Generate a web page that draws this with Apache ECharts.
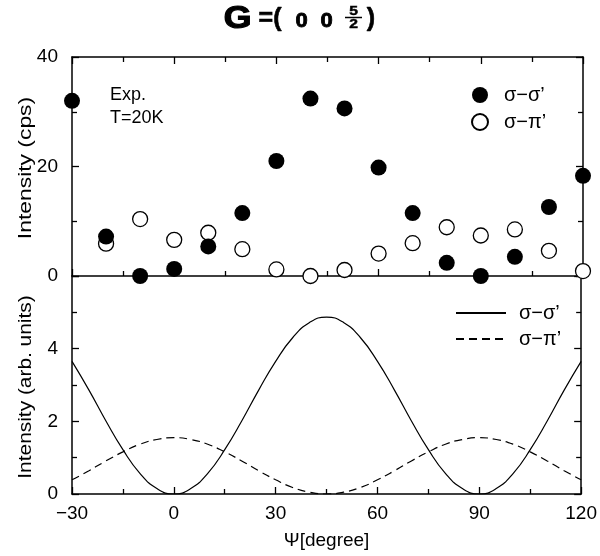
<!DOCTYPE html>
<html><head><meta charset="utf-8">
<script src="https://cdn.jsdelivr.net/npm/echarts@6/dist/echarts.min.js"></script>
<style>html,body{margin:0;padding:0;background:#fff}#c{width:600px;height:556px}</style>
</head><body><div id="c"></div>
<script>
// Measured angles (degrees)
const psiExp = [-30,-20,-10,0,10,20,30,40,50,60,70,80,90,100,110,120];
// Experimental intensities (cps), sigma-sigma'
const sigSigExp = [32.0,7.2,0.0,1.3,5.4,11.5,21.0,32.4,30.6,19.8,11.5,2.4,0.0,3.5,12.6,18.3];
// Experimental intensities (cps), sigma-pi'
const psiExpPi = [-20,-10,0,10,20,30,40,50,60,70,80,90,100,110,120];
const sigPiExp = [5.9,10.4,6.6,7.9,4.9,1.2,0.0,1.1,4.1,6.0,8.9,7.4,8.5,4.6,0.9];
// Calculated curves (arb. units), read every 5 degrees
const psiCalc = [-30,-25,-20,-15,-10,-5,0,5,10,15,20,25,30,35,40,45,50,55,60,65,70,75,80,85,90,95,100,105,110,115,120];
const sigSigCalc = [3.65,2.86,2.01,1.22,0.57,0.15,0.0,0.15,0.57,1.22,2.01,2.86,3.65,4.30,4.72,4.87,4.72,4.30,3.65,2.86,2.01,1.22,0.57,0.15,0.0,0.15,0.57,1.22,2.01,2.86,3.65];
const sigPiCalc  = [0.39,0.64,0.91,1.16,1.37,1.50,1.55,1.50,1.37,1.16,0.91,0.64,0.39,0.18,0.05,0.0,0.05,0.18,0.39,0.64,0.91,1.16,1.37,1.50,1.55,1.50,1.37,1.16,0.91,0.64,0.39];

const pair = (xs, ys) => xs.map((x,i)=>[x, ys[i]]);
const FONT = "'Liberation Sans', Arial, sans-serif";
const black = '#000';

function xAx(grid, pos, labels){
  return {type:'value', gridIndex:grid, position:pos, min:-30, max:120, interval:30,
    axisLine:{show:true, onZero:false, lineStyle:{color:black,width:1.5}},
    axisTick:{show:true, inside:true, length:7, lineStyle:{color:black,width:1.3}},
    minorTick:{show:true, splitNumber:2, length:5, lineStyle:{color:black,width:1.3}},
    splitLine:{show:false},
    axisLabel:{show:labels, color:black, fontFamily:FONT, fontSize:19, margin:10,
      formatter: v => String(v).replace('-', '\u2212')},
    name: labels ? '\u03A8[degree]' : '', nameLocation:'middle', nameGap:37,
    nameTextStyle:{color:black, fontFamily:FONT, fontSize:19}
  };
}
function yAx(grid, pos, max, interval, labels, hideTop){
  return {type:'value', gridIndex:grid, position:pos, min:0, max:max, interval:interval,
    axisLine:{show:true, onZero:false, lineStyle:{color:black,width:1.5}},
    axisTick:{show:true, inside:true, length:7, lineStyle:{color:black,width:1.3}},
    minorTick:{show:true, splitNumber:2, length:5, lineStyle:{color:black,width:1.3}},
    splitLine:{show:false},
    axisLabel:{show:labels, color:black, fontFamily:FONT, fontSize:19, margin:14,
      formatter: v => (hideTop && v===max) ? '' : String(v)}
  };
}
// text helper: centred text element
function T(x, y, text, size, bold, strokeW, extra){
  const style = {text:text, fill:black, fontSize:size, fontFamily:FONT,
    fontWeight: bold ? 'bold' : 'normal', align:'center', verticalAlign:'middle'};
  if (strokeW) { style.stroke = black; style.lineWidth = strokeW; }
  return Object.assign({type:'text', x:x, y:y, style:style}, extra||{});
}

const chart = echarts.init(document.getElementById('c'));
chart.setOption({
  animation:false,
  backgroundColor:'#fff',
  grid:[
    {left:72, top:57, width:511, height:219},
    {left:72, top:276, width:511, height:218}
  ],
  xAxis:[ xAx(0,'bottom',false), xAx(0,'top',false), xAx(1,'bottom',true) ],
  yAxis:[
    yAx(0,'left',40,20,true,false),
    yAx(0,'right',40,20,false,false),
    yAx(1,'left',6,2,true,true),
    yAx(1,'right',6,2,false,false)
  ],
  legend:[
    {data:['exp σ−σ’','exp σ−π’'], orient:'vertical', left:471, top:85, padding:0,
     itemWidth:16, itemHeight:16, itemGap:7,
     formatter:n=>n.replace(/^\S+ /,''),
     textStyle:{color:black,fontFamily:FONT,fontSize:20,lineHeight:20,padding:[0,0,0,11]}, selectedMode:false},
    {data:['calc σ−σ’','calc σ−π’'], orient:'vertical', left:455, top:303, padding:0,
     itemWidth:50, itemHeight:14, itemGap:6, itemStyle:{opacity:0},
     formatter:n=>n.replace(/^\S+ /,''),
     textStyle:{color:black,fontFamily:FONT,fontSize:20,lineHeight:20,padding:[0,0,0,8]}, selectedMode:false}
  ],
  graphic:[
    {type:'text', x:110, y:84, style:{text:'Exp.\nT=20K', fill:black, fontSize:18, fontFamily:FONT, lineHeight:23}},
    T(26, 168, 'Intensity (cps)', 18, false, 0, {rotation:Math.PI/2, scaleX:1.27}),
    T(26, 387, 'Intensity (arb. units)', 18, false, 0, {rotation:Math.PI/2, scaleX:1.16}),
    T(237.5, 19, 'G', 31, true, 1.2, {scaleX:1.15}),
    T(270, 19, '=(', 25, true, 0.6),
    T(301.5, 21, '0', 20, true, 0.8, {scaleX:1.1}),
    T(326.5, 21, '0', 20, true, 0.8, {scaleX:1.1}),
    T(353.5, 11.5, '5', 13, true, 0.5, {scaleX:1.2}),
    {type:'line', shape:{x1:345, y1:17.5, x2:362, y2:17.5}, style:{stroke:black, lineWidth:1.5}},
    T(353.5, 24, '2', 13, true, 0.5, {scaleX:1.2}),
    T(371, 19, ')', 25, true, 0.6)
  ],
  series:[
    {name:'exp σ−π’', type:'scatter', xAxisIndex:0, yAxisIndex:0, data:pair(psiExpPi, sigPiExp),
     symbol:'circle', symbolSize:15, clip:false,
     itemStyle:{color:'#fff', borderColor:black, borderWidth:1.3, opacity:1}, z:3},
    {name:'exp σ−σ’', type:'scatter', xAxisIndex:0, yAxisIndex:0, data:pair(psiExp, sigSigExp),
     symbol:'circle', symbolSize:16, clip:false,
     itemStyle:{color:black, borderWidth:0, opacity:1}, z:4},
    {name:'calc σ−σ’', type:'line', xAxisIndex:2, yAxisIndex:2, data:pair(psiCalc, sigSigCalc),
     smooth:true, symbol:'none', lineStyle:{color:black, width:1.2, type:'solid'}, itemStyle:{color:black}},
    {name:'calc σ−π’', type:'line', xAxisIndex:2, yAxisIndex:2, data:pair(psiCalc, sigPiCalc),
     smooth:true, symbol:'none', lineStyle:{color:black, width:1.2, type:[8,5]}, itemStyle:{color:black}}
  ]
});
</script></body></html>
